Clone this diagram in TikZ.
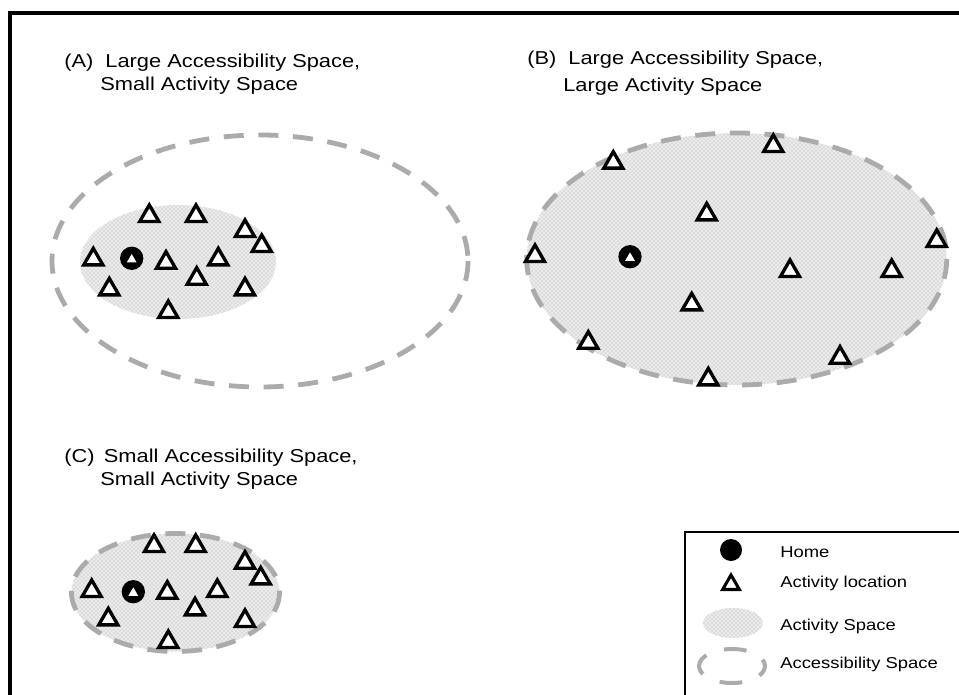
\documentclass[tikz,border=0pt]{standalone}
\usepackage{fontspec}
\setmainfont{Liberation Sans}[FakeStretch=1.17]
\usetikzlibrary{shapes.geometric,patterns}
\begin{document}
\begin{tikzpicture}[x=0.75pt,y=-0.75pt,
  tri/.style={regular polygon, regular polygon sides=3, draw=black, fill=white, line width=2.5pt, minimum size=16.5pt, inner sep=0pt, yshift=-2pt},
  homept/.style={circle, fill=black, minimum size=17.5pt, inner sep=0pt},
  homein/.style={regular polygon, regular polygon sides=3, fill=white, minimum size=8.5pt, inner sep=0pt, yshift=-1pt},
  accline/.style={draw=black!33, line width=3.6pt, dash pattern=on 15pt off 11pt},
  actfill/.style={fill=black!8},
  actdots/.style={pattern=crosshatch dots, pattern color=black!32},
  title/.style={anchor=base west, inner sep=0pt, font=\fontsize{14}{17}\selectfont},
  legtext/.style={anchor=base west, inner sep=0pt, font=\fontsize{11.8}{14}\selectfont},
]
\useasboundingbox (0,0) rectangle (959,695);
% frame
\draw[line width=2.3pt] (10,695) -- (10,13) -- (959,13);

% ---------- Panel A ----------
\node[title] (labA1) at (64,68) {(A)\hspace{9pt}Large Accessibility Space,};
\node[title] (labA2) at (100,91) {Small Activity Space};
\draw[accline] (260,261) ellipse [x radius=208, y radius=126];
\fill[actfill] (178,262) ellipse [x radius=98, y radius=57];
\fill[actdots] (178,262) ellipse [x radius=98, y radius=57];
\foreach \px/\py [count=\i] in {149.3/213.3, 196/213.3, 245/228.3, 261.7/243.3, 93.3/256.7, 166/260, 218.3/256.7, 196.7/276, 109.3/286.7, 245/286.7, 168.3/309.3}
  \node[tri] (a\i) at (\px,\py) {};
\node[homept] (homeA) at (131.7,258.3) {};
\node[homein] (homeAin) at (homeA) {};

% ---------- Panel B ----------
\node[title] (labB1) at (527,65) {(B)\hspace{9pt}Large Accessibility Space,};
\node[title] (labB2) at (563,92) {Large Activity Space};
\fill[actfill] (736.7,259) ellipse [x radius=210, y radius=126];
\fill[actdots] (736.7,259) ellipse [x radius=210, y radius=126];
\draw[accline] (736.7,259) ellipse [x radius=210, y radius=126];
\foreach \px/\py [count=\i] in {613.3/160, 773.3/143.3, 706.7/211.7, 535/253.3, 936.7/238.3, 790/268.3, 891.7/268.3, 691.7/301.7, 588.3/340, 840/355, 708.3/376.7}
  \node[tri] (b\i) at (\px,\py) {};
\node[homept] (homeB) at (630,256.7) {};
\node[homein] (homeBin) at (homeB) {};

% ---------- Panel C ----------
\node[title] (labC1) at (64,462) {(C)\hspace{7pt}Small Accessibility Space,};
\node[title] (labC2) at (100,485) {Small Activity Space};
\fill[actfill] (175.5,592.5) ellipse [x radius=104, y radius=59];
\fill[actdots] (175.5,592.5) ellipse [x radius=104, y radius=59];
\draw[accline] (175.5,592.5) ellipse [x radius=104, y radius=59];
\foreach \px/\py [count=\i] in {154/543.3, 195.7/543.3, 245/560, 260.7/575.7, 91.7/588.3, 167.3/590, 217.3/588.3, 195/606.7, 108.3/616.7, 245/618.3, 168.3/639.3}
  \node[tri] (c\i) at (\px,\py) {};
\node[homept] (homeC) at (133.3,591.7) {};
\node[homein] (homeCin) at (homeC) {};

% ---------- Legend ----------
\draw[line width=1.6pt] (685,695) -- (685,532) -- (959,532);
\node[homept, minimum size=16.5pt] (lhome) at (731,550) {};
\node[legtext] (lhomet) at (780,557) {Home};
\node[tri, line width=2.3pt, minimum size=14.5pt] (ltri) at (731,582) {};
\node[legtext] (ltrit) at (780,587) {Activity location};
\fill[actfill] (733,623) ellipse [x radius=30, y radius=15];
\fill[actdots] (733,623) ellipse [x radius=30, y radius=15];
\node[legtext] (lactt) at (780,630) {Activity Space};
\draw[accline, line width=3pt, dash pattern=on 17pt off 14pt, dash phase=8.5pt] (732,666) ellipse [x radius=33, y radius=17];
\node[legtext] (lacct) at (780,668) {Accessibility Space};
\end{tikzpicture}
\end{document}
